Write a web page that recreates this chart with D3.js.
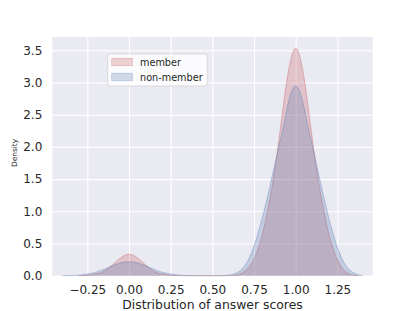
<!DOCTYPE html>
<html>
<head>
<meta charset="utf-8">
<script src="https://cdn.jsdelivr.net/npm/d3@7"></script>
<style>
  html, body { margin: 0; padding: 0; background: #ffffff; }
  svg { display: block; font-family: "DejaVu Sans", sans-serif; }
</style>
</head>
<body>
<svg id="chart" width="415" height="311"></svg>
<script>
// ---- data ----
const seriesNames = ["member", "non-member"];
const seriesColors = ["#C44E52", "#4C72B0"];

const xTicks = [-0.25, 0.00, 0.25, 0.50, 0.75, 1.00, 1.25];
const xTickLabels = ["\u22120.25", "0.00", "0.25", "0.50", "0.75", "1.00", "1.25"];
const yTicks = [0.0, 0.5, 1.0, 1.5, 2.0, 2.5, 3.0, 3.5];
const yTickLabels = ["0.0", "0.5", "1.0", "1.5", "2.0", "2.5", "3.0", "3.5"];

// sampling points of the density curves
const memberX = [-0.30, -0.275, -0.25, -0.225, -0.20, -0.175, -0.15, -0.125, -0.10, -0.075, -0.05, -0.025,
  0.00, 0.025, 0.05, 0.075, 0.10, 0.125, 0.15, 0.175, 0.20, 0.225, 0.25, 0.275, 0.30,
  0.35, 0.40, 0.50, 0.60, 0.625, 0.65, 0.675, 0.70, 0.725, 0.75, 0.775, 0.80, 0.825, 0.85, 0.875,
  0.90, 0.925, 0.95, 0.975, 1.00, 1.025, 1.05, 1.075, 1.10, 1.125, 1.15, 1.175, 1.20, 1.225,
  1.25, 1.275, 1.30, 1.325, 1.35, 1.375];
const memberY = [0.001, 0.003, 0.007, 0.014, 0.026, 0.040, 0.070, 0.113, 0.167, 0.226, 0.280, 0.318,
  0.332, 0.318, 0.280, 0.226, 0.167, 0.113, 0.070, 0.040, 0.026, 0.014, 0.007, 0.003, 0.001,
  0.000, 0.000, 0.000, 0.001, 0.004, 0.014, 0.037, 0.082, 0.150, 0.260, 0.420, 0.640, 0.930, 1.260, 1.650,
  2.120, 2.620, 3.080, 3.400, 3.530, 3.400, 3.080, 2.620, 2.120, 1.650, 1.260, 0.930, 0.640, 0.420,
  0.250, 0.130, 0.060, 0.020, 0.005, 0.001];

const nonMemberX = [-0.40, -0.375, -0.35, -0.325, -0.30, -0.275, -0.25, -0.225, -0.20, -0.175, -0.15, -0.125,
  -0.10, -0.075, -0.05, -0.025, 0.00, 0.025, 0.05, 0.075, 0.10, 0.125, 0.15, 0.175, 0.20, 0.225,
  0.25, 0.275, 0.30, 0.325, 0.35, 0.375, 0.40, 0.45, 0.50, 0.55, 0.575, 0.60, 0.625, 0.65, 0.675,
  0.70, 0.725, 0.75, 0.775, 0.80, 0.825, 0.85, 0.875, 0.90, 0.925, 0.95, 0.975, 1.00, 1.025, 1.05,
  1.075, 1.10, 1.125, 1.15, 1.175, 1.20, 1.225, 1.25, 1.275, 1.30, 1.325, 1.35, 1.375, 1.40];
const nonMemberY = [0.001, 0.0015, 0.003, 0.005, 0.009, 0.016, 0.025, 0.037, 0.054, 0.074, 0.099, 0.126,
  0.153, 0.179, 0.199, 0.212, 0.217, 0.212, 0.199, 0.179, 0.153, 0.126, 0.099, 0.074, 0.054, 0.037,
  0.025, 0.016, 0.009, 0.005, 0.003, 0.0015, 0.001, 0.000, 0.000, 0.001, 0.003, 0.009, 0.022, 0.048, 0.095,
  0.175, 0.295, 0.460, 0.670, 0.900, 1.160, 1.440, 1.730, 2.020, 2.300, 2.620, 2.860, 2.945, 2.860, 2.620,
  2.300, 2.020, 1.730, 1.430, 1.150, 0.880, 0.650, 0.440, 0.280, 0.160, 0.085, 0.040, 0.015, 0.004];

const xLabel = "Distribution of answer scores";
const yLabel = "Density";

// ---- layout ----
const plot = { left: 52.3, right: 372.7, top: 37, bottom: 275.7 };
const svg = d3.select("#chart");

const x = d3.scaleLinear().domain([-0.460, 1.462]).range([plot.left, plot.right]);
const y = d3.scaleLinear().domain([0, 3.706]).range([plot.bottom, plot.top]);

// background
svg.append("rect")
  .attr("x", plot.left).attr("y", plot.top)
  .attr("width", plot.right - plot.left).attr("height", plot.bottom - plot.top)
  .attr("fill", "#EAEAF2");

// grid via axes
const gx = svg.append("g").attr("transform", `translate(0,${plot.bottom})`)
  .call(d3.axisBottom(x).tickValues(xTicks).tickFormat((d, i) => xTickLabels[i])
    .tickSize(-(plot.bottom - plot.top)).tickPadding(9.5));
const gy = svg.append("g").attr("transform", `translate(${plot.left},0)`)
  .call(d3.axisLeft(y).tickValues(yTicks).tickFormat((d, i) => yTickLabels[i])
    .tickSize(-(plot.right - plot.left)).tickPadding(10));

[gx, gy].forEach(g => {
  g.select(".domain").remove();
  g.selectAll(".tick line").attr("stroke", "#ffffff").attr("stroke-width", 1.1);
  g.selectAll(".tick text").attr("fill", "#262626").attr("font-size", "12px")
    .attr("font-family", "DejaVu Sans, sans-serif");
});

// density areas
const series = [
  { name: seriesNames[0], color: seriesColors[0], xs: memberX, ys: memberY },
  { name: seriesNames[1], color: seriesColors[1], xs: nonMemberX, ys: nonMemberY }
];

const area = d3.area()
  .x(d => x(d[0])).y0(y(0)).y1(d => y(d[1]))
  .curve(d3.curveMonotoneX);
const line = d3.line()
  .x(d => x(d[0])).y(d => y(d[1]))
  .curve(d3.curveMonotoneX);

series.forEach(s => {
  const pts = s.xs.map((v, i) => [v, s.ys[i]]);
  svg.append("path").datum(pts)
    .attr("d", area)
    .attr("fill", s.color).attr("fill-opacity", 0.25);
  svg.append("path").datum(pts)
    .attr("d", line)
    .attr("fill", "none").attr("stroke", s.color)
    .attr("stroke-opacity", 0.35).attr("stroke-width", 1);
});

// axis labels
svg.append("text")
  .attr("x", (plot.left + plot.right) / 2).attr("y", 309.3)
  .attr("text-anchor", "middle").attr("font-size", "12.4px").attr("fill", "#262626")
  .text(xLabel);
svg.append("text")
  .attr("transform", `translate(17,${153}) rotate(-90)`)
  .attr("text-anchor", "middle").attr("font-size", "7.4px").attr("fill", "#262626")
  .text(yLabel);

// legend
const lg = svg.append("g");
lg.append("rect")
  .attr("x", 107.7).attr("y", 54).attr("width", 99.6).attr("height", 32).attr("rx", 2.5)
  .attr("fill", "#ffffff").attr("fill-opacity", 0.8)
  .attr("stroke", "#cccccc").attr("stroke-opacity", 0.8).attr("stroke-width", 0.8);
series.forEach((s, i) => {
  const yy = 58.3 + i * 15;
  lg.append("rect")
    .attr("x", 111.7).attr("y", yy).attr("width", 20.6).attr("height", 7.4)
    .attr("fill", s.color).attr("fill-opacity", 0.25)
    .attr("stroke", s.color).attr("stroke-opacity", 0.3).attr("stroke-width", 0.8);
  lg.append("text")
    .attr("x", 140).attr("y", yy + 7.3)
    .attr("font-size", "9.7px").attr("fill", "#262626")
    .text(s.name);
});
</script>
</body>
</html>
